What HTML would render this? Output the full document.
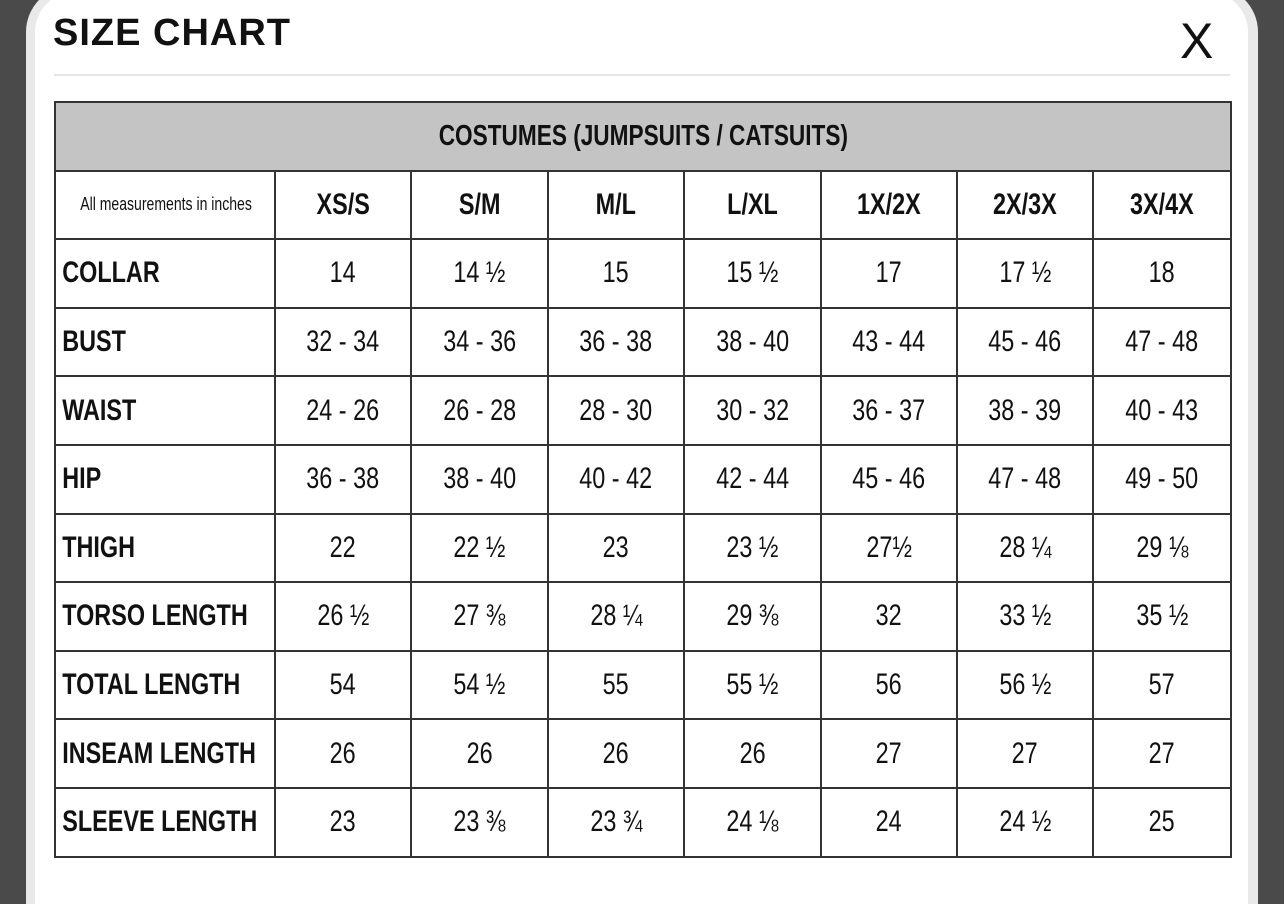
<!DOCTYPE html>
<html><head><style>
html{margin:0;padding:0;width:1284px;height:904px;overflow:hidden;}
body{margin:0;padding:0;width:1284px;height:904px;background:#4a4a4a;position:relative;overflow:hidden;font-family:"Liberation Sans",sans-serif;}
.panel{position:absolute;left:26px;top:-14px;width:1232px;height:918px;background:#e9e9e9;border-radius:46px 46px 0 0;}
.inner{position:absolute;left:35px;top:-8px;width:1213px;height:912px;background:#fff;border-radius:40px 40px 0 0;}
.title{position:absolute;left:53px;top:12px;font-size:38px;font-weight:bold;letter-spacing:1px;color:#111;}
.x{position:absolute;left:1180px;top:12px;font-size:50px;color:#111;font-weight:normal;}
.sep{position:absolute;left:54px;top:74px;width:1176px;height:2px;background:#e6e6e6;}
table{position:absolute;left:54px;top:101px;width:1176px;border-collapse:collapse;table-layout:fixed;}
tr{height:68.6px;}
td{border:2px solid #333;padding:0;text-align:center;color:#111;font-size:30px;white-space:nowrap;overflow:visible;box-sizing:border-box;}
td span{display:inline-block;transform:scaleX(0.78);}
.hd{background:#c4c4c4;font-weight:bold;font-size:29px;}
.sz{font-weight:bold;font-size:30px;}
.lb{text-align:left;font-weight:bold;font-size:30px;}
.lb span{transform-origin:left center;padding-left:8px;}
.note{font-size:18px;}
</style></head><body>
<div class="panel"></div><div class="inner"></div>
<div class="title">SIZE CHART</div>
<div class="x">X</div>
<div class="sep"></div>
<table>
<colgroup><col style="width:220px"><col style="width:136px"><col style="width:137px"><col style="width:136px"><col style="width:137px"><col style="width:136px"><col style="width:136px"><col style="width:138px"></colgroup>
<tr><td class="hd" colspan="8"><span>COSTUMES (JUMPSUITS / CATSUITS)</span></td></tr>
<tr><td class="note"><span>All measurements in inches</span></td><td class="sz"><span>XS/S</span></td><td class="sz"><span>S/M</span></td><td class="sz"><span>M/L</span></td><td class="sz"><span>L/XL</span></td><td class="sz"><span>1X/2X</span></td><td class="sz"><span>2X/3X</span></td><td class="sz"><span>3X/4X</span></td></tr>
<tr><td class="lb"><span>COLLAR</span></td><td><span>14</span></td><td><span>14 ½</span></td><td><span>15</span></td><td><span>15 ½</span></td><td><span>17</span></td><td><span>17 ½</span></td><td><span>18</span></td></tr>
<tr><td class="lb"><span>BUST</span></td><td><span>32 - 34</span></td><td><span>34 - 36</span></td><td><span>36 - 38</span></td><td><span>38 - 40</span></td><td><span>43 - 44</span></td><td><span>45 - 46</span></td><td><span>47 - 48</span></td></tr>
<tr><td class="lb"><span>WAIST</span></td><td><span>24 - 26</span></td><td><span>26 - 28</span></td><td><span>28 - 30</span></td><td><span>30 - 32</span></td><td><span>36 - 37</span></td><td><span>38 - 39</span></td><td><span>40 - 43</span></td></tr>
<tr><td class="lb"><span>HIP</span></td><td><span>36 - 38</span></td><td><span>38 - 40</span></td><td><span>40 - 42</span></td><td><span>42 - 44</span></td><td><span>45 - 46</span></td><td><span>47 - 48</span></td><td><span>49 - 50</span></td></tr>
<tr><td class="lb"><span>THIGH</span></td><td><span>22</span></td><td><span>22 ½</span></td><td><span>23</span></td><td><span>23 ½</span></td><td><span>27½</span></td><td><span>28 ¼</span></td><td><span>29 ⅛</span></td></tr>
<tr><td class="lb"><span>TORSO LENGTH</span></td><td><span>26 ½</span></td><td><span>27 ⅜</span></td><td><span>28 ¼</span></td><td><span>29 ⅜</span></td><td><span>32</span></td><td><span>33 ½</span></td><td><span>35 ½</span></td></tr>
<tr><td class="lb"><span>TOTAL LENGTH</span></td><td><span>54</span></td><td><span>54 ½</span></td><td><span>55</span></td><td><span>55 ½</span></td><td><span>56</span></td><td><span>56 ½</span></td><td><span>57</span></td></tr>
<tr><td class="lb"><span>INSEAM LENGTH</span></td><td><span>26</span></td><td><span>26</span></td><td><span>26</span></td><td><span>26</span></td><td><span>27</span></td><td><span>27</span></td><td><span>27</span></td></tr>
<tr><td class="lb"><span>SLEEVE LENGTH</span></td><td><span>23</span></td><td><span>23 ⅜</span></td><td><span>23 ¾</span></td><td><span>24 ⅛</span></td><td><span>24</span></td><td><span>24 ½</span></td><td><span>25</span></td></tr>
</table>
</body></html>
